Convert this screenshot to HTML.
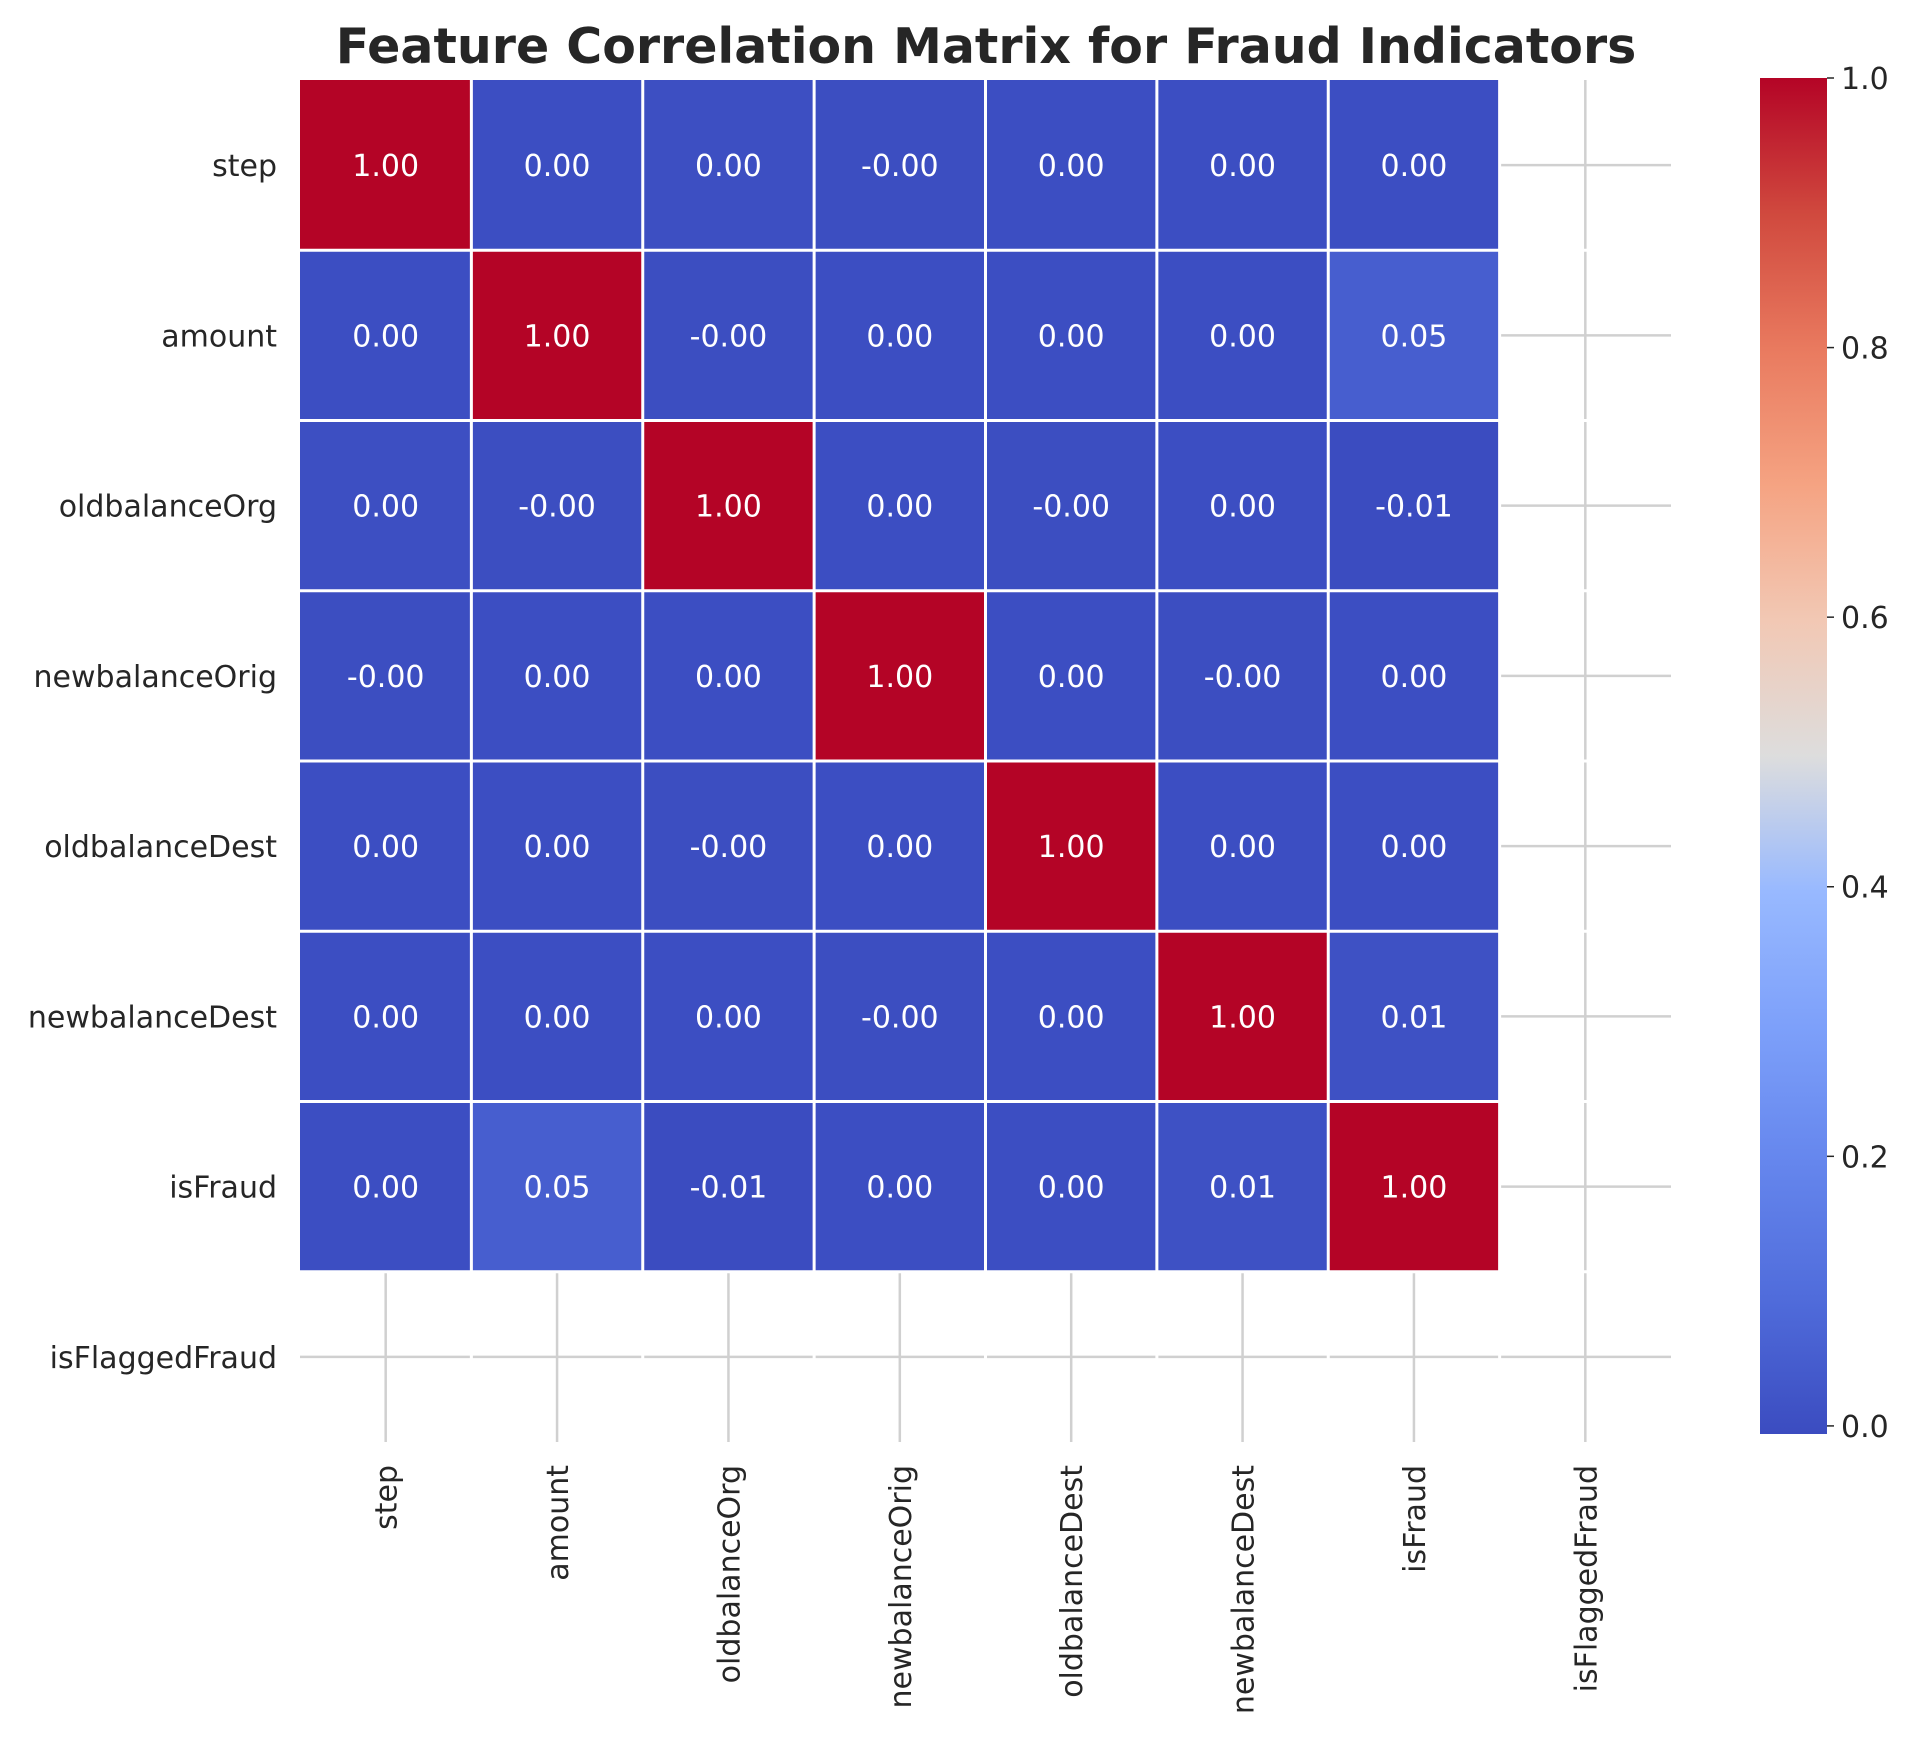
<!DOCTYPE html>
<html><head><meta charset="utf-8"><style>
html,body{margin:0;padding:0;background:#fff;}
svg{display:block;font-family:"DejaVu Sans","Liberation Sans",sans-serif;}
</style></head><body>
<svg id="chart" width="1920" height="1743" viewBox="0 0 1920 1743" xmlns="http://www.w3.org/2000/svg">
<text x="986" y="63" text-anchor="middle" font-size="49" font-weight="bold" fill="#262626">Feature Correlation Matrix for Fraud Indicators</text>
<g id="grid"></g>
<g id="cells"></g>
<g id="seps"></g>
<g id="ylabels"></g>
<g id="xlabels"></g>
<defs><linearGradient id="cbgrad" x1="0" y1="1" x2="0" y2="0"></linearGradient></defs>
<g id="colorbar"></g>
</svg>
<script>
const labels = ["step","amount","oldbalanceOrg","newbalanceOrig","oldbalanceDest","newbalanceDest","isFraud","isFlaggedFraud"];
const row0 = [1, 0.001, 0.003, -0.001, 0.001, 0.001, 0.001, null];
const row1 = [0.001, 1, -0.001, 0.001, 0.001, 0.001, 0.05, null];
const row2 = [0.003, -0.001, 1, 0.001, -0.001, 0.001, -0.01, null];
const row3 = [-0.001, 0.001, 0.001, 1, 0.001, -0.001, 0.001, null];
const row4 = [0.001, 0.001, -0.001, 0.001, 1, 0.001, 0.001, null];
const row5 = [0.001, 0.001, 0.001, -0.001, 0.001, 1, 0.01, null];
const row6 = [0.001, 0.05, -0.01, 0.001, 0.001, 0.01, 1, null];
const row7 = [null, null, null, null, null, null, null, null];
const matrix = [row0,row1,row2,row3,row4,row5,row6,row7];
const cbTicks = [0.0, 0.2, 0.4, 0.6, 0.8, 1.0];
const vmin = -0.006, vmax = 1.0;

const NS = "http://www.w3.org/2000/svg";
const X0 = 300, X1 = 1671, Y0 = 80, Y1 = 1442;
const n = labels.length;
const cw = (X1 - X0) / n, ch = (Y1 - Y0) / n;
const xPos = i => X0 + i * cw;
const yPos = j => Y0 + j * ch;
const FS = 30;

const cmStops = [[0,[59,76,192]],[0.1,[80,108,219]],[0.2,[101,134,237]],[0.3,[125,160,250]],[0.4,[152,185,255]],[0.5,[221,221,221]],[0.6,[242,200,180]],[0.7,[245,163,130]],[0.8,[233,122,95]],[0.9,[208,73,62]],[1,[180,4,38]]];
function cmap(v){
  let t = (v - vmin) / (vmax - vmin); t = Math.max(0, Math.min(1, t));
  for (let k = 1; k < cmStops.length; k++) {
    if (t <= cmStops[k][0]) {
      const a = cmStops[k-1], b = cmStops[k], f = (t - a[0]) / (b[0] - a[0]);
      const c = a[1].map((x, i) => Math.round(x + (b[1][i] - x) * f));
      return `rgb(${c[0]},${c[1]},${c[2]})`;
    }
  }
  return "rgb(180,4,38)";
}
function mk(tag, attrs, parent){
  const e = document.createElementNS(NS, tag);
  for (const k in attrs) e.setAttribute(k, attrs[k]);
  parent.appendChild(e); return e;
}
const grid = document.getElementById('grid');
for (let i = 0; i < n; i++) {
  const gx = mk('line', {x1: xPos(i)+cw/2, x2: xPos(i)+cw/2, y1: Y0, y2: Y1, stroke: '#d0d0d0', 'stroke-width': 2.5}, grid);
  
  
  const gy = mk('line', {x1: X0, x2: X1, y1: yPos(i)+ch/2, y2: yPos(i)+ch/2, stroke: '#d0d0d0', 'stroke-width': 2.5}, grid);
  
  
}
const cells = document.getElementById('cells');
for (let r = 0; r < n; r++) for (let c = 0; c < n; c++) {
  const v = matrix[r][c];
  if (v === null) continue;
  const rect = mk('rect', {x: xPos(c), y: yPos(r), width: cw, height: ch, fill: cmap(v)}, cells);
  
  
  const t = mk('text', {x: xPos(c)+cw/2, y: yPos(r)+ch/2+11, 'text-anchor': 'middle', 'font-size': FS, fill: '#fff'}, cells);
  t.textContent = v.toFixed(2);
  
  
}
const seps = document.getElementById('seps');
for (let i = 1; i < n; i++) {
  const s1 = mk('line', {x1: xPos(i), x2: xPos(i), y1: Y0, y2: Y1, stroke: '#fff', 'stroke-width': 3}, seps);
  
  
  const s2 = mk('line', {x1: X0, x2: X1, y1: yPos(i), y2: yPos(i), stroke: '#fff', 'stroke-width': 3}, seps);
  
  
}
const yl = document.getElementById('ylabels'), xl = document.getElementById('xlabels');
labels.forEach((lab, i) => {
  const t = mk('text', {x: 277, y: yPos(i)+ch/2+11, 'text-anchor': 'end', 'font-size': FS, fill: '#262626'}, yl);
  t.textContent = lab;
  
  
  const cx = xPos(i)+cw/2 + 11;
  const u = mk('text', {x: cx, y: 1465, 'text-anchor': 'end', 'font-size': FS, fill: '#262626', transform: `rotate(-90 ${cx} 1465)`}, xl);
  u.textContent = lab;
  
  
});
const CBX = 1760, CBW = 67, CBT = 78, CBB = 1434;
const grad = document.getElementById('cbgrad');
cmStops.forEach(s => { mk('stop', {offset: s[0], 'stop-color': `rgb(${s[1].join(',')})`}, grad); });
const cb = document.getElementById('colorbar');
const cbr = mk('rect', {x: CBX, y: CBT, width: CBW, height: CBB-CBT, fill: 'url(#cbgrad)'}, cb);


const cbY = v => CBB - (v - vmin) / (vmax - vmin) * (CBB - CBT);
cbTicks.forEach(v => {
  const y = cbY(v);
  const tk = mk('line', {x1: CBX+CBW, x2: CBX+CBW+7, y1: y, y2: y, stroke: '#262626', 'stroke-width': 1.5}, cb);
  
  
  const t = mk('text', {x: CBX+CBW+14, y: y+11, 'font-size': FS, fill: '#262626'}, cb);
  t.textContent = v.toFixed(1);
  
  
});
</script>
</body></html>
